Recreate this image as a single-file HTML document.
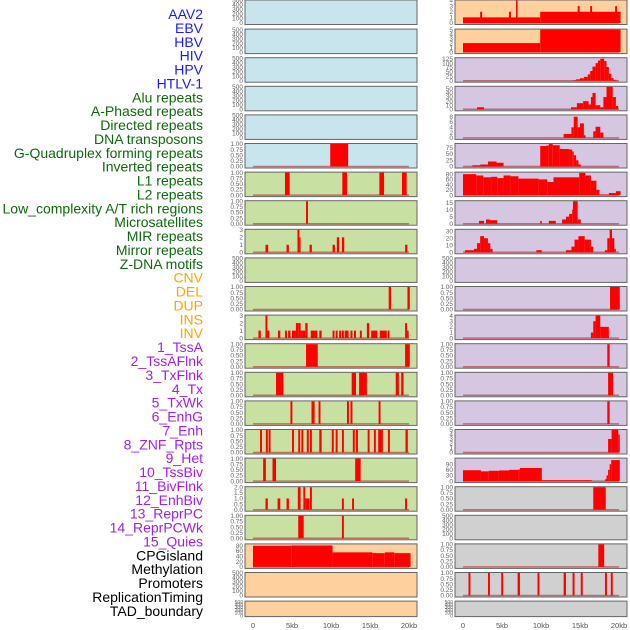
<!DOCTYPE html>
<html><head><meta charset="utf-8">
<style>
html,body{margin:0;padding:0;background:#fff;}
svg{display:block;font-family:"Liberation Sans",sans-serif;}
</style></head>
<body>
<svg id="chart" width="630" height="630" viewBox="0 0 630 630" xmlns="http://www.w3.org/2000/svg">
<g id="labels"></g>
<g id="panels"></g>
<g id="xaxes"></g>
</svg>
<script>
// ---- data ----
const trackLabels = ["AAV2","EBV","HBV","HIV","HPV","HTLV-1","Alu repeats","A-Phased repeats","Directed repeats","DNA transposons","G-Quadruplex forming repeats","Inverted repeats","L1 repeats","L2 repeats","Low_complexity A/T rich regions","Microsatellites","MIR repeats","Mirror repeats","Z-DNA motifs","CNV","DEL","DUP","INS","INV","1_TssA","2_TssAFlnk","3_TxFlnk","4_Tx","5_TxWk","6_EnhG","7_Enh","8_ZNF_Rpts","9_Het","10_TssBiv","11_BivFlnk","12_EnhBiv","13_ReprPC","14_ReprPCWk","15_Quies","CPGisland","Methylation","Promoters","ReplicationTiming","TAD_boundary"];
const labelGroups = [6,13,5,15,5];
const xTickValues = [0,5,10,15,20];
const xTickLabels = ["0","5kb","10kb","15kb","20kb"];
// per-panel y max
const leftYMax = [500,500,500,500,500,1,1,1,3,500,1,3,1,1,1,1,1,2,1,85,500,500];
const rightYMax = [4,5,128,55,8.5,90,86,16,32,500,1,4,1,1,1,5,120,1,500,1,1,500];
// per-panel tick values
const leftTicks = ["500","500","500","500","500","1","1","1","3","500","1","3","1","1","1","1","1","2","1","80","500","500"];
const rightTicks = ["4","5","125","50","8","75","80","15","30","500","1","4","1","1","1","5","90","1","500","1","1","500"];
const tickSets = {
 "500":[0,100,200,300,400,500], "1":[0,0.25,0.5,0.75,1], "3":[0,1,2,3], "2":[0,0.5,1,1.5,2],
 "80":[0,20,40,60,80], "4":[0,1,2,3,4], "5":[0,1,2,3,4,5], "125":[0,25,50,75,100,125],
 "50":[0,10,20,30,40,50], "8":[0,2,4,6,8], "75":[0,25,50,75], "15":[0,5,10,15], "30":[0,10,20,30], "90":[0,30,60,90]
};
const tickDecimals = {"1":2,"2":1};
// segments: [startKb, endKb, value]
const leftSegs = [
 [],[],[],[],[],
 [[9.9,12.2,1]],
 [[4.1,4.7,1],[11.45,12.05,1],[16.2,16.8,1],[19.1,19.7,1]],
 [[6.8,7.05,1]],
 [[1.6,1.95,1],[4.3,4.6,1],[5.7,5.95,3],[5.95,6.1,2],[7.25,7.55,1],[10.2,10.5,1],[10.75,11.05,2],[11.4,11.7,2],[19.5,19.8,1]],
 [],
 [[17.4,17.7,1],[19.8,20.1,1]],
 [[0.7,1.0,1],[1.6,1.85,3],[1.85,2.1,1],[3.2,3.5,1],[4.1,4.35,1],[4.5,4.8,1],[5.0,5.5,1],[5.5,5.8,2],[5.8,6.1,2],[6.1,6.4,1],[6.4,6.7,1],[6.7,7.0,2],[7.4,8.25,1],[8.5,8.8,1],[10.2,10.45,1],[10.6,10.85,1],[11.05,11.3,1],[11.4,11.65,1],[11.75,12.25,1],[12.5,12.75,1],[12.95,13.2,1],[13.7,13.95,1],[14.6,14.9,2],[15.15,15.95,1],[16.25,17.15,1],[17.25,17.5,1],[19.5,19.75,2],[19.75,19.95,1]],
 [[6.8,8.3,1],[19.5,20.1,1]],
 [[2.95,3.9,1],[12.65,13.2,1],[13.6,14.6,1],[18.3,18.7,1],[19.0,19.3,1]],
 [[4.8,5.05,1],[7.5,7.9,1],[8.4,8.65,1],[12.05,12.3,1],[12.5,12.75,1],[16.1,16.35,1]],
 [[0.9,1.15,1],[1.65,1.9,1],[2.0,2.25,1],[5.0,5.25,1],[5.8,6.05,1],[6.2,6.45,1],[6.9,7.15,1],[7.3,7.55,1],[8.5,8.8,1],[10.1,10.35,1],[10.6,10.85,1],[11.4,11.65,1],[12.8,13.05,1],[13.2,13.45,1],[14.7,14.95,1],[15.5,15.75,1],[16.05,16.65,1],[17.3,17.55,1],[19.55,19.85,1]],
 [[1.3,1.65,1],[2.5,2.95,1],[13.1,13.8,1]],
 [[1.6,1.9,1],[3.15,3.5,1],[4.3,4.6,1],[5.75,6.1,2],[6.45,6.7,2],[6.7,7.25,1],[7.3,7.55,2],[11.4,11.65,1],[12.7,12.95,1],[19.5,19.75,1]],
 [[5.8,6.5,1],[11.4,11.65,1]],
 [[0,4.9,80],[4.9,10.2,81],[10.2,15.3,55],[15.3,16.9,52],[16.9,18.1,55],[18.1,20.2,52]],
 [],[]
];
const rightSegs = [
 [[0,9.9,1],[2.2,2.45,2],[5.9,6.15,2],[6.8,7.0,4],[9.9,20.2,2],[14.7,14.95,3],[16.3,16.55,3],[19.5,19.75,3]],
 [[0,9.9,2],[9.9,20.2,5]],
 [[14.1,14.5,3],[14.5,15,8],[15,15.5,14],[15.5,16,22],[16,16.3,36],[16.3,16.6,55],[16.6,17,80],[17,17.3,100],[17.3,17.6,115],[17.6,18.1,125],[18.1,18.4,112],[18.4,18.7,78],[18.7,19,40],[19,19.3,15],[19.3,19.7,5]],
 [[1.8,2.7,5],[13.85,14.6,5],[14.6,15.4,15],[15.4,16.1,20],[16.1,16.4,12],[16.4,16.6,30],[16.6,17.0,40],[17.0,17.6,10],[17.6,18.0,5],[18.0,18.4,30],[18.4,19.2,55],[19.2,19.6,30],[19.6,19.9,8]],
 [[12.9,13.9,1.5],[13.9,14.2,4],[14.2,14.7,8],[14.7,15.0,4],[15.0,15.5,5.5],[15.5,15.7,1],[16.7,17.0,2.5],[17.0,17.6,4.2],[17.6,18.0,2]],
 [[1.2,2.2,5],[2.2,3.2,8],[3.2,4.3,20],[4.3,5.2,15],[9.9,10.7,82],[10.7,11.0,84],[11.0,11.5,90],[11.5,12.4,85],[12.4,13.6,70],[13.6,14.0,68],[14.0,14.2,60],[14.2,14.5,45],[14.5,14.8,25],[14.8,15.1,8]],
 [[0,1.7,80],[1.7,2.6,75],[2.6,3.6,68],[3.6,4.4,70],[4.4,5.2,65],[5.2,6.1,75],[6.1,7.1,72],[7.1,9.7,63],[9.7,10.8,60],[10.8,11.6,50],[11.6,14.9,68],[14.9,15.7,85],[15.7,16.4,75],[16.4,17.1,55],[17.1,17.5,20],[17.5,18.7,2],[18.7,19.6,8],[19.6,20.2,15]],
 [[2.05,2.7,2],[2.95,3.45,3],[3.45,4.4,2.5],[9.9,10.1,2],[11.0,11.9,2],[12.7,13.2,3],[13.2,13.6,5],[13.6,14.0,7],[14.0,14.1,10],[14.1,14.7,16],[14.7,15.1,3]],
 [[0.25,1.4,3],[1.4,1.8,5],[1.8,2.2,13],[2.2,2.7,23],[2.7,3.2,20],[3.2,3.5,13],[3.5,3.8,5],[9.4,10.1,3],[13.2,13.9,3],[13.9,14.3,8],[14.3,14.8,18],[14.8,15.6,23],[15.6,16.4,18],[16.4,16.7,8],[18.2,18.5,3],[18.5,18.8,20],[18.8,19.1,32],[19.1,19.4,20],[19.4,19.6,5]],
 [],
 [[18.85,20.1,1]],
 [[16.4,16.7,1],[16.7,17.0,3],[17.0,17.6,4],[17.6,18.7,2]],
 [[18.5,18.8,1]],
 [[18.6,19.25,1]],
 [[18.5,18.8,1]],
 [[18.6,19.05,3],[19.05,19.9,5],[19.9,20.1,4]],
 [[0,2.3,58],[2.3,3.3,52],[3.3,4.6,55],[4.6,5.9,57],[5.9,7.1,60],[7.1,7.3,62],[7.3,10.1,70],[10.1,16.5,5],[18.2,18.4,10],[18.4,18.6,30],[18.6,18.8,60],[18.8,19.0,90],[19.0,20.1,112]],
 [[16.7,18.3,1]],
 [],
 [[17.35,18.1,1]],
 [[0.7,0.95,1],[3.2,3.45,1],[4.9,5.15,1],[7.0,7.3,1],[9.55,9.8,1],[12.9,13.2,1],[14.05,14.3,1],[15.1,15.35,1],[18.2,18.45,1],[18.95,19.2,1]],
 []
];
const leftBg = ["#c8e4ec","#c8e4ec","#c8e4ec","#c8e4ec","#c8e4ec","#c8e4ec","#c8e0a2","#c8e0a2","#c8e0a2","#c8e0a2","#c8e0a2","#c8e0a2","#c8e0a2","#c8e0a2","#c8e0a2","#c8e0a2","#c8e0a2","#c8e0a2","#c8e0a2","#fdd09d","#fdd09d","#fdd09d"];
const rightBg = ["#fdd09d","#fdd09d","#d5c6e2","#d5c6e2","#d5c6e2","#d5c6e2","#d5c6e2","#d5c6e2","#d5c6e2","#d5c6e2","#d5c6e2","#d5c6e2","#d5c6e2","#d5c6e2","#d5c6e2","#d5c6e2","#d5c6e2","#d0d0d0","#d0d0d0","#d0d0d0","#d0d0d0","#d0d0d0"];

// ---- drawing ----
const NS = "http://www.w3.org/2000/svg";
function mk(tag, attrs, parent){ const e=document.createElementNS(NS,tag); for(const k in attrs) e.setAttribute(k,attrs[k]); parent.appendChild(e); return e; }
const groupColors = ["#1a1aff","#0d6b0d","#ffa500","#a020f0","#000000"];
const labG = document.getElementById('labels');
let gi=0, cnt=0;
trackLabels.forEach((t,i)=>{
  while(cnt>=labelGroups[gi]){ gi++; cnt=0; }
  cnt++;
  const el = mk('text',{x:203,y:14+i*13.88+5,'text-anchor':'end','font-size':'14',fill:groupColors[gi]},labG);
  el.textContent=t;
  
  
});

const panG = document.getElementById('panels');
const cols = [{x0:245,x1:417,zero:253,segs:leftSegs,ymax:leftYMax,ticks:leftTicks,bg:leftBg,side:'left'},
              {x0:455,x1:627,zero:463,segs:rightSegs,ymax:rightYMax,ticks:rightTicks,bg:rightBg,side:'right'}];
const kbScale = 7.8;
function rowTop(i){ return i===0 ? 0 : 0.5+28.6*i; }
function rowH(i){ return i===21 ? 15.5 : (i===0 ? 24.5 : 24.5); }
cols.forEach(c=>{
  const xs = kb => c.zero + kb*kbScale;
  for(let i=0;i<22;i++){
    const T=rowTop(i), H=rowH(i), B=T+H;
    const g = mk('g',{},panG);
    
    
    mk('rect',{x:c.x0,y:T,width:c.x1-c.x0,height:H,fill:c.bg[i],stroke:'#666','stroke-width':1},g);
    const ym = c.ymax[i];
    const ys = v => (B-1.5) - v/ym*(H-2);
    const segs = c.segs[i];
    if(segs.length){
      mk('line',{x1:xs(0),x2:xs(20),y1:B-1.5,y2:B-1.5,stroke:'rgba(170,30,30,0.55)','stroke-width':1.5},g);
    }
    segs.forEach(s=>{
      const y=ys(s[2]);
      const r = mk('rect',{x:xs(s[0]),y:Math.max(T,y),width:Math.max(1,xs(s[1])-xs(s[0])),height:(B-1.5)-Math.max(T,y),fill:'#ff0000'},g);
      
      
    });
    const tk = tickSets[c.ticks[i]];
    const dec = tickDecimals[c.ticks[i]]||0;
    const fs = H<20 ? 5 : 6.5;
    tk.forEach(v=>{
      const el = mk('text',{x:c.x0-2,y:ys(v)+2.2,'text-anchor':'end','font-size':fs,fill:'#666'},g);
      el.textContent = v.toFixed(dec);
      
      
    });
  }
  const ax = document.getElementById('xaxes');
  xTickValues.forEach((v,k)=>{
    const el = mk('text',{x:xs(v),y:628,'text-anchor':'middle','font-size':'7.5',fill:'#555'},ax);
    el.textContent = xTickLabels[k];
    
    
  });
});
</script>
</body></html>
